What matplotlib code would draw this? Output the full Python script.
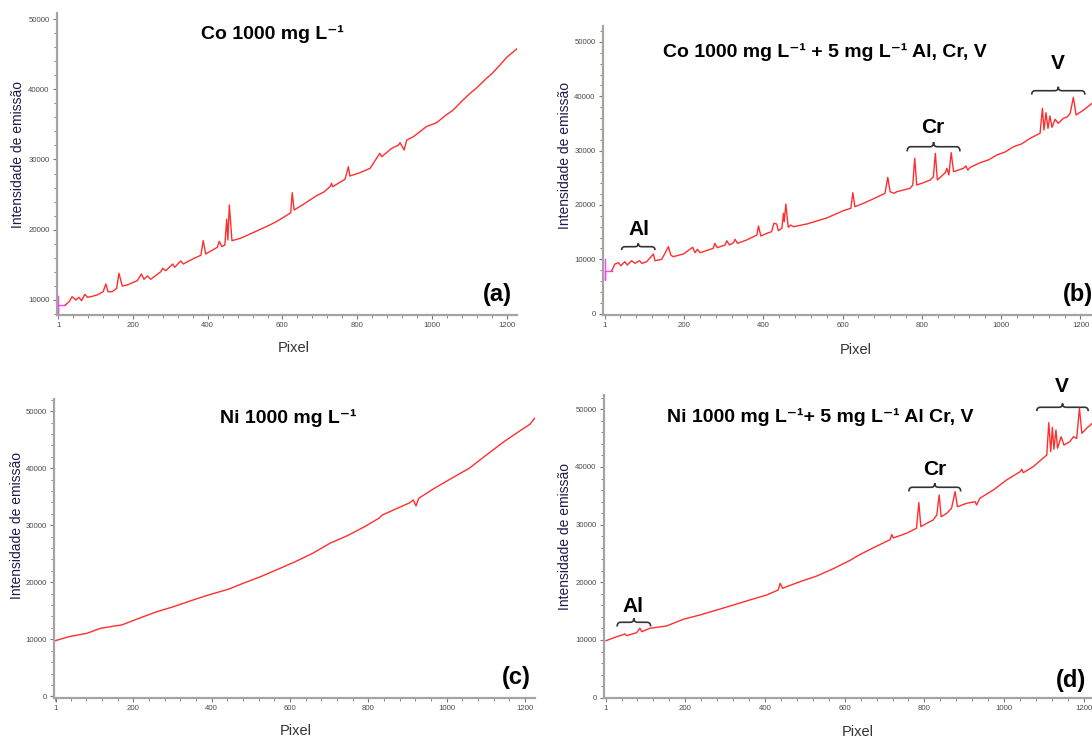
import numpy as np
import matplotlib
matplotlib.use("Agg")
import matplotlib.pyplot as plt
from matplotlib.path import Path
from matplotlib.patches import PathPatch
from matplotlib.ticker import MultipleLocator

plt.rcParams['font.family'] = ['Liberation Sans', 'DejaVu Sans']

# ---------------- spectra (detector pixel vs emission intensity) ----------------
# (a) Co 1000 mg/L
a_head_pix = [1, 1, 1, 20]
a_head_int = [10570, 8100, 9290, 9290]
a_pix = [20, 30, 38, 48, 56, 63, 72, 79, 88, 105, 121, 128, 134, 145, 157, 163, 172,
         185, 212, 223, 230, 239, 248, 275, 280, 288, 307, 312, 328, 335, 364, 382,
         388, 395, 426, 431, 438, 446, 451, 454, 458, 465, 488, 524, 559, 580, 604, 622,
         626, 631, 656, 691, 710, 727, 731, 734, 767, 776, 780, 807, 834, 860, 865, 892,
         910, 914, 921, 925, 932, 950, 967, 985, 1012, 1035, 1056, 1080, 1101, 1120,
         1145, 1160, 1181, 1200, 1215, 1228]
a_int = [9290, 9760, 10470, 10000, 10380, 9900, 10810, 10380, 10470, 10710, 11180, 12280,
         11180, 11180, 11660, 13800, 11990, 12130, 12750, 13700, 12950, 13420, 12950,
         14030, 14510, 14170, 15120, 14650, 15550, 15120, 15940, 16360, 18440, 16550,
         17500, 18360, 17590, 17830, 21490, 18540, 23520, 18440, 18780, 19650, 20500,
         21050, 21800, 22430, 25270, 22810, 23620, 24850, 25350, 26130, 26610, 26130,
         27180, 28970, 27650, 28120, 28740, 30880, 30400, 31600, 32060, 32390, 31740,
         31350, 32780, 33250, 33960, 34700, 35240, 36250, 37050, 38350, 39420, 40250,
         41560, 42250, 43450, 44600, 45250, 45850]

# (b) Co 1000 mg/L + 5 mg/L Al, Cr, V
b_head_pix = [1, 1, 1, 18]
b_head_int = [10000, 6190, 7900, 7900]
b_pix = [18, 26, 35, 41, 51, 57, 68, 77, 88, 94, 106, 123, 127, 144, 161, 167, 173,
         199, 222, 228, 234, 241, 274, 278, 284, 304, 308, 315, 325, 329, 335, 358,
         384, 388, 394, 409, 421, 427, 434, 438, 447, 451, 453, 457, 463, 469, 476,
         510, 560, 602, 621, 626, 631, 653, 686, 707, 714, 720, 730, 737, 770, 777,
         782, 787, 804, 821, 829, 834, 839, 859, 863, 868, 874, 880, 905, 911, 916,
         922, 947, 968, 989, 1010, 1031, 1052, 1073, 1098, 1104, 1108, 1113, 1118,
         1123, 1128, 1136, 1144, 1157, 1167, 1174, 1182, 1189, 1195, 1208, 1229]
b_int = [7900, 9130, 9380, 8820, 9560, 8950, 9740, 9260, 9740, 9260, 9560, 10980, 9740,
         10000, 12320, 10790, 10480, 10980, 12210, 11220, 11840, 11220, 12020, 12950,
         12140, 12630, 13420, 12630, 13060, 13680, 12950, 13550, 14470, 16130, 14290,
         14780, 15080, 16630, 16500, 15260, 15710, 18470, 16920, 20180, 15890, 16310,
         16000, 16500, 17600, 18950, 19390, 22260, 19680, 20310, 21410, 22150, 25090,
         22440, 22150, 22440, 23070, 23670, 28590, 23670, 24100, 24600, 25200, 29510,
         24600, 25940, 26750, 25520, 29620, 26120, 26750, 27170, 26430, 26930, 27780,
         28300, 29200, 29750, 30720, 31250, 32270, 33190, 37790, 33800, 36980, 34100,
         36380, 34290, 35770, 35030, 35950, 36240, 36870, 39820, 36560, 36870, 37480,
         38710]

# (c) Ni 1000 mg/L
c_pix = [1, 36, 81, 116, 152, 170, 214, 258, 303, 347, 392, 436, 449, 480, 525, 569,
         614, 658, 702, 747, 791, 827, 836, 880, 907, 915, 922, 929, 969, 1013, 1058,
         1102, 1147, 1191, 1213, 1225]
c_int = [9770, 10470, 11050, 11930, 12340, 12510, 13680, 14800, 15730, 16780, 17780,
         18650, 18950, 19820, 20990, 22280, 23630, 25090, 26840, 28190, 29770, 31230,
         31810, 33160, 33980, 34450, 33390, 34740, 36490, 38250, 40000, 42340, 44680,
         46730, 47720, 48770]

# (d) Ni 1000 mg/L + 5 mg/L Al, Cr, V
d_pix = [1, 28, 49, 53, 78, 86, 91, 111, 153, 195, 237, 279, 321, 362, 404, 433, 438,
         444, 454, 488, 530, 571, 613, 635, 672, 714, 718, 722, 755, 780, 786, 791,
         806, 822, 831, 837, 842, 856, 868, 877, 883, 906, 927, 931, 939, 973, 1006,
         1040, 1044, 1048, 1073, 1107, 1112, 1117, 1121, 1125, 1130, 1134, 1143, 1150,
         1165, 1174, 1182, 1189, 1195, 1207, 1221, 1228]
d_int = [9880, 10570, 11040, 10750, 11270, 12030, 11440, 12030, 12430, 13590, 14340,
         15200, 16070, 16940, 17800, 18670, 19830, 18960, 19240, 20110, 21100, 22350,
         23800, 24700, 26000, 27400, 28300, 27700, 28500, 29370, 33810, 29650, 30240,
         30810, 31680, 35140, 31380, 31970, 32840, 35720, 33110, 33700, 33980, 33410,
         34570, 36010, 37740, 39180, 39600, 39010, 40050, 42080, 47680, 42650, 46880,
         43070, 46410, 43240, 45250, 43810, 44390, 45250, 44960, 50170, 45840, 46710,
         47580, 48000]

x_ticks = [1, 200, 400, 600, 800, 1000, 1200]

# ---------------- layout helpers (pixel units of the 1092x738 canvas) ----------------
W, H = 1092, 738
RED = '#ff2e2e'
MAGENTA = '#ff3cff'
fig = plt.figure(figsize=(W / 100, H / 100), dpi=100)


def box(left, top, right, bottom):
    return [left / W, 1 - bottom / H, (right - left) / W, (bottom - top) / H]


def ftext(px, py, s, **kw):
    fig.text(px / W, 1 - py / H, s, **kw)


def style(ax, xlim, ylim, yticks):
    ax.set_xlim(*xlim)
    ax.set_ylim(*ylim)
    for s in ('top', 'right'):
        ax.spines[s].set_visible(False)
    for s in ('left', 'bottom'):
        ax.spines[s].set_color('#a4a4a0')
        ax.spines[s].set_linewidth(1.6)
    ax.set_xticks(x_ticks, labels=[str(v) for v in x_ticks])
    ax.set_yticks(yticks, labels=[str(v) for v in yticks])
    ax.xaxis.set_minor_locator(MultipleLocator(40))
    ax.yaxis.set_minor_locator(MultipleLocator(2000))
    ax.tick_params(which='major', length=3, width=0.8, color='#777777', pad=2,
                   labelsize=5.6, labelcolor='#4a4a4a')
    ax.tick_params(which='minor', length=2, width=0.7, color='#888888')
    for lab in ax.get_xticklabels() + ax.get_yticklabels():
        lab.set_family(['Liberation Sans Narrow', 'Liberation Sans'])
    ax.patch.set_alpha(0)


def brace(ax, x0, x1, y, h, d=9):
    xm = (x0 + x1) / 2
    verts = [(x0, y - h), (x0, y), (x0 + d, y), (xm - d, y), (xm, y), (xm, y + h),
             (xm, y), (xm + d, y), (x1 - d, y), (x1, y), (x1, y - h)]
    codes = [Path.MOVETO, Path.CURVE3, Path.CURVE3, Path.LINETO, Path.CURVE3, Path.CURVE3,
             Path.CURVE3, Path.CURVE3, Path.LINETO, Path.CURVE3, Path.CURVE3]
    ax.add_patch(PathPatch(Path(verts, codes), fill=False, lw=1.2, ec='#333333',
                           clip_on=False))


ax_a = fig.add_axes(box(56.6, 12.7, 517, 315))
ax_b = fig.add_axes(box(602.5, 26, 1092, 315))
ax_c = fig.add_axes(box(53.9, 399.3, 534.6, 697.7))
ax_d = fig.add_axes(box(603.6, 395, 1095, 698.3))

style(ax_a, (-3.5, 1226.5), (7860, 50900), [10000, 20000, 30000, 40000, 50000])
style(ax_b, (-5.3, 1229), (-250, 52940), [0, 10000, 20000, 30000, 40000, 50000])
style(ax_c, (-3.3, 1225), (-245, 52100), [0, 10000, 20000, 30000, 40000, 50000])
style(ax_d, (-5, 1228), (-110, 52480), [0, 10000, 20000, 30000, 40000, 50000])

ax_a.plot(a_head_pix, a_head_int, color=MAGENTA, lw=1.0, clip_on=False)
ax_a.plot(a_pix, a_int, color=RED, lw=1.0)
ax_b.plot(b_head_pix, b_head_int, color=MAGENTA, lw=1.0, clip_on=False)
ax_b.plot(b_pix, b_int, color=RED, lw=1.0)
ax_c.plot(c_pix, c_int, color=RED, lw=1.0)
ax_d.plot(d_pix, d_int, color=RED, lw=1.0)

# element brackets
lab = dict(fontsize=15, fontweight='bold', ha='center', va='center', clip_on=False)
brace(ax_b, 43, 127, 12320, 620)
ax_b.text(85.5, 15450, 'Al', **lab)
brace(ax_b, 763, 896, 30720, 860)
ax_b.text(828, 34350, 'Cr', **lab)
brace(ax_b, 1077, 1211, 41030, 720)
ax_b.text(1143, 45980, 'V', **lab)

brace(ax_d, 29, 113, 13070, 730)
ax_d.text(69, 15770, 'Al', **lab)
brace(ax_d, 761, 891, 36480, 730)
ax_d.text(825, 39620, 'Cr', **lab)
brace(ax_d, 1082, 1211, 50350, 660)
ax_d.text(1145, 54010, 'V', **lab)

# titles, panel letters, axis labels
tt = dict(fontsize=14, fontweight='bold', ha='center', va='baseline')
ftext(272, 39.3, 'Co 1000 mg L\u207b\u00b9', **tt)
ftext(825, 56.7, 'Co 1000 mg L\u207b\u00b9 + 5 mg L\u207b\u00b9 Al, Cr, V', **tt)
ftext(288, 423.3, 'Ni 1000 mg L\u207b\u00b9', **tt)
ftext(820, 422.3, 'Ni 1000 mg L\u207b\u00b9+ 5 mg L\u207b\u00b9 Al Cr, V', **tt)

pl = dict(fontsize=17, fontweight='bold', ha='center', va='center')
ftext(497.5, 294, '(a)', **pl)
ftext(1078, 295, '(b)', **pl)
ftext(516, 677.5, '(c)', **pl)
ftext(1071, 681, '(d)', **pl)

xl = dict(fontsize=10.5, color='#333333', ha='center', va='center')
ftext(293.4, 347.7, 'Pixel', **xl)
ftext(855.6, 350, 'Pixel', **xl)
ftext(295.6, 730.7, 'Pixel', **xl)
ftext(857.9, 731.7, 'Pixel', **xl)

yl = dict(fontsize=10, color='#22184c', ha='center', va='center', rotation=90)
ftext(18.3, 154.7, 'Intensidade de emissão', **yl)
ftext(565, 155.8, 'Intensidade de emissão', **yl)
ftext(17.4, 525.8, 'Intensidade de emissão', **yl)
ftext(565, 536.2, 'Intensidade de emissão', **yl)

fig.savefig('out.png', dpi=100)
